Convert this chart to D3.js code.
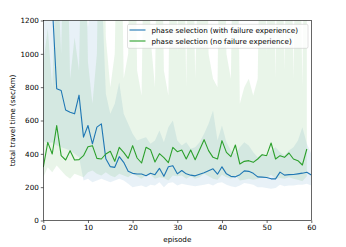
<!DOCTYPE html>
<html lang="en">
<head>
  <meta charset="UTF-8">
  <title>travel time per episode</title>
  <style>
  body { margin: 0; background: #fff; }
  svg { display: block; font-family: "DejaVu Sans", sans-serif; }
  </style>
</head>
<body>
  <svg></svg>
  <script src="https://d3js.org/d3.v7.min.js"></script>
  <script>
  // mean travel time, with failure experience (episodes 0..60)
  var withFailure = [1900, 1600, 1300, 790, 780, 663, 650, 640, 752, 500,
    570, 460, 560, 580, 370, 323, 319, 383, 349, 295,
    283, 279, 279, 269, 283, 275, 313, 265, 323, 329,
    280, 300, 280, 272, 268, 278, 286, 298, 310, 278,
    322, 280, 265, 262, 275, 298, 295, 283, 262, 260,
    258, 250, 250, 290, 272, 275, 276, 280, 284, 289, 273];
  var withFailureHi = [2600, 2400, 2200, 1900, 1800, 1700, 1600, 1500, 1600, 1450,
    1160, 1400, 1400, 1450, 760, 640, 700, 830, 640, 580,
    520, 480, 490, 500, 460, 480, 540, 470, 560, 600,
    480, 450, 470, 430, 440, 470, 520, 580, 660, 480,
    570, 470, 420, 400, 440, 470, 450, 410, 380, 400,
    380, 420, 440, 410, 390, 420, 440, 480, 560, 460, 400];
  var withFailureLo = [480, 460, 470, 450, 440, 430, 420, 400, 380, 240,
    250, 230, 240, 250, 240, 230, 240, 250, 240, 220,
    200, 205, 210, 200, 215, 210, 230, 200, 225, 230,
    210, 220, 215, 210, 205, 210, 215, 220, 210, 225,
    230, 215, 205, 200, 210, 225, 220, 215, 200, 200,
    195, 190, 195, 215, 205, 210, 210, 215, 215, 220, 210];

  // mean travel time, no failure experience (episodes 0..59)
  var noFailure = [320, 469, 399, 569, 389, 363, 419, 363, 365, 389,
    443, 449, 373, 369, 399, 415, 355, 439, 409, 373,
    449, 375, 345, 439, 425, 351, 401, 377, 347, 439,
    413, 423, 369, 423, 365, 425, 485, 419, 379, 369,
    479, 409, 383, 453, 339, 355, 359, 349, 369, 395,
    389, 465, 369, 389, 379, 405, 369, 359, 333, 429];
  var noFailureHi = [950, 1150, 800, 1600, 1000, 2200, 850, 1100, 900, 2400,
    950, 700, 1000, 2800, 1100, 800, 1000, 2600, 850, 1000,
    3000, 900, 750, 2600, 1100, 800, 2800, 900, 750, 3000,
    1000, 2600, 800, 2800, 850, 1800, 3200, 1000, 850, 800,
    3000, 1000, 850, 2800, 700, 800, 850, 750, 850, 2600,
    1000, 3200, 850, 2600, 900, 2800, 850, 2600, 800, 3000];
  var noFailureLo = [260, 320, 290, 330, 300, 270, 250, 280, 270, 260,
    290, 300, 280, 270, 290, 270, 260, 280, 270, 260,
    280, 265, 250, 270, 275, 250, 260, 255, 240, 270,
    265, 270, 250, 265, 250, 260, 280, 265, 250, 245,
    275, 260, 250, 270, 240, 245, 250, 245, 250, 260,
    255, 275, 250, 255, 250, 260, 250, 245, 235, 265];

  var xTicks = [0, 10, 20, 30, 40, 50, 60];
  var yTicks = [0, 200, 400, 600, 800, 1000, 1200];
  var seriesNames = ["phase selection (with failure experience)", "phase selection (no failure experience)"];
  var colors = ["#1f77b4", "#2ca02c"];

  var width = 346, height = 247;
  var plotLeft = 43.3, plotRight = 311.3, plotTop = 20.5, plotBottom = 220.5;

  var svg = d3.select("svg").attr("width", width).attr("height", height);

  var xScale = d3.scaleLinear().domain([0, 60]).range([plotLeft, plotRight]);
  var yScale = d3.scaleLinear().domain([0, 1200]).range([plotBottom, plotTop]);

  svg.append("clipPath").attr("id", "plot")
    .append("rect")
      .attr("x", plotLeft).attr("y", plotTop)
      .attr("width", plotRight - plotLeft).attr("height", plotBottom - plotTop);

  var plot = svg.append("g").attr("clip-path", "url(#plot)");

  var bands = [
    { mean: withFailure, hi: withFailureHi, lo: withFailureLo, color: colors[0] },
    { mean: noFailure, hi: noFailureHi, lo: noFailureLo, color: colors[1] }
  ];

  bands.forEach(function(s) {
    var area = d3.area()
      .x((d, i) => xScale(i))
      .y0((d, i) => yScale(s.lo[i]))
      .y1((d, i) => yScale(s.hi[i]));
    plot.append("path")
      .datum(s.mean)
      .attr("d", area)
      .attr("fill", s.color)
      .attr("fill-opacity", 0.1);
  });

  bands.forEach(function(s) {
    var line = d3.line().x((d, i) => xScale(i)).y(d => yScale(d));
    plot.append("path")
      .datum(s.mean)
      .attr("d", line)
      .attr("fill", "none")
      .attr("stroke", s.color)
      .attr("stroke-width", 1.1)
      .attr("stroke-linejoin", "round");
  });

  // axes
  var xAxis = svg.append("g")
    .attr("transform", "translate(0," + plotBottom + ")")
    .call(d3.axisBottom(xScale).tickValues(xTicks).tickFormat(d3.format("d")).tickSize(2.5).tickPadding(2));
  var yAxis = svg.append("g")
    .attr("transform", "translate(" + plotLeft + ",0)")
    .call(d3.axisLeft(yScale).tickValues(yTicks).tickFormat(d3.format("d")).tickSize(2.5).tickPadding(2));

  [xAxis, yAxis].forEach(function(ax) {
    ax.select(".domain").remove();
    ax.selectAll("line").attr("stroke", "#000").attr("stroke-width", 0.6);
    ax.selectAll("text")
      .attr("font-family", "DejaVu Sans")
      .attr("font-size", 7.2)
      .attr("fill", "#000");
  });

  svg.append("rect")
    .attr("x", plotLeft).attr("y", plotTop)
    .attr("width", plotRight - plotLeft).attr("height", plotBottom - plotTop)
    .attr("fill", "none").attr("stroke", "#000").attr("stroke-width", 0.6);

  svg.append("text")
    .attr("x", (plotLeft + plotRight) / 2).attr("y", 241.5)
    .attr("text-anchor", "middle")
    .attr("font-size", 7.2)
    .text("episode");

  svg.append("text")
    .attr("transform", "translate(14.5," + ((plotTop + plotBottom) / 2) + ") rotate(-90)")
    .attr("text-anchor", "middle")
    .attr("font-size", 7.2)
    .text("total travel time (sec/km)");

  // legend
  var legend = svg.append("g");
  legend.append("rect")
    .attr("x", 127.5).attr("y", 24.3)
    .attr("width", 180.5).attr("height", 24)
    .attr("rx", 1.5)
    .attr("fill", "#fff").attr("fill-opacity", 0.8)
    .attr("stroke", "#ccc").attr("stroke-width", 0.6);

  seriesNames.forEach(function(name, i) {
    var y = 30 + i * 11;
    legend.append("line")
      .attr("x1", 129.5).attr("x2", 145.5)
      .attr("y1", y).attr("y2", y)
      .attr("stroke", colors[i]).attr("stroke-width", 1.1);
    legend.append("text")
      .attr("x", 151.5).attr("y", y + 2.6)
      .attr("font-size", 7.2)
      .text(name);
  });
  </script>
</body>
</html>
